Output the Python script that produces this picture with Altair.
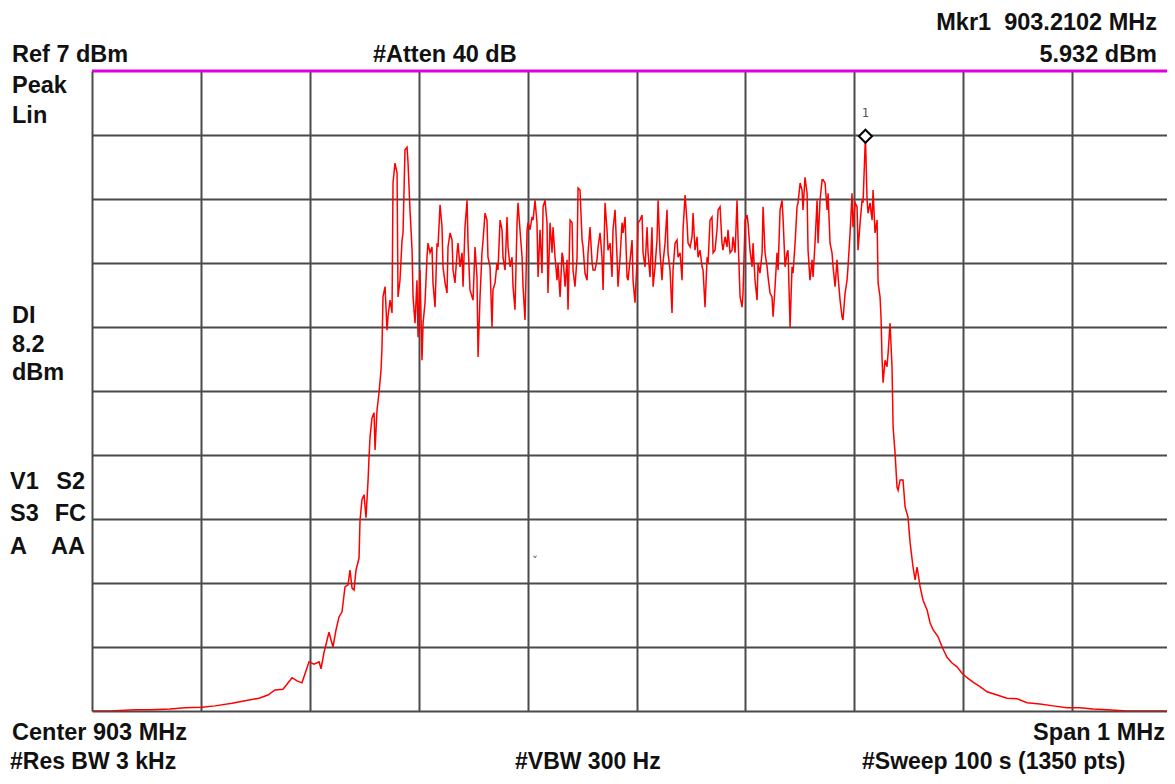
import altair as alt
import pandas as pd

FONT = "Liberation Sans"
TXT = "#111111"

# ---- trace data: frequency offset from 903 MHz centre (kHz) and level (divisions, 0..10) ----
LS_F = [-500.0, -483.5, -460.5, -446.7, -428.4, -414.6, -399.0, -387.0, -371.4, -359.5,
        -346.6, -338.4, -332.0, -324.6, -316.3, -311.7, -307.2, -300.7, -296.1, -291.5,
        -289.7, -287.0, -282.4, -280.5, -278.7, -275.9, -273.2, -270.4, -267.7, -264.9,
        -263.1, -261.2, -259.4, -257.6, -254.8, -253.9, -252.1, -250.2, -248.4, -246.5,
        -245.6, -244.7, -242.9, -241.0, -240.1, -238.3, -236.4, -234.6, -233.7]
LS_V = [0.0, 0.0, 0.02, 0.02, 0.03, 0.05, 0.06, 0.08, 0.12, 0.16,
        0.20, 0.25, 0.33, 0.34, 0.52, 0.47, 0.44, 0.77, 0.73, 0.77,
        0.66, 0.91, 1.23, 1.11, 1.00, 1.27, 1.47, 1.55, 1.94, 1.97,
        2.20, 1.92, 1.89, 2.20, 2.39, 2.98, 3.30, 3.38, 3.02, 3.61,
        3.97, 4.28, 4.58, 4.66, 4.08, 4.70, 4.98, 5.33, 5.69]

P1_F = [-232.8, -230.9, -229.1, -228.2, -226.3, -224.5, -223.6, -221.8, -219.9, -219.0,
        -217.2, -215.3, -214.4, -212.6, -210.7, -209.8, -208.0, -206.1, -205.2, -203.4,
        -201.6, -200.6, -198.8, -197.0, -196.0, -194.2, -192.4, -191.5, -189.6, -187.8,
        -186.9, -185.0, -183.2, -182.3, -180.4, -178.6, -177.7, -175.8, -174.0, -173.1,
        -171.2, -169.4, -168.5, -166.7, -164.8, -163.9, -162.1, -160.2, -159.3, -157.5,
        -155.6, -154.7, -152.9, -151.0, -150.1, -148.3, -146.5, -145.5, -143.7, -141.9,
        -140.9, -139.1, -137.3, -136.4, -134.5, -132.7, -131.8, -129.9, -128.1, -127.2,
        -125.3, -123.5, -122.6, -120.7, -118.9, -118.0, -116.1, -114.3, -113.4, -111.6,
        -109.7, -108.8, -107.0, -105.1, -104.2, -102.4, -100.5, -99.6, -97.8, -95.9,
        -95.0, -93.2, -91.4, -90.4, -88.6, -86.8, -85.8, -84.0, -82.2, -81.3,
        -79.4, -77.6, -76.7, -74.8]
P1_V = [6.47, 6.63, 5.95, 6.16, 6.42, 6.22, 8.25, 8.56, 8.41, 6.47,
        6.73, 7.36, 7.47, 8.77, 8.81, 8.56, 7.83, 7.20, 6.47, 6.06,
        6.73, 5.84, 6.89, 5.48, 6.06, 6.38, 7.09, 7.31, 7.16, 7.25,
        6.69, 6.31, 7.31, 7.25, 7.91, 7.56, 6.94, 6.69, 6.53, 7.25,
        7.47, 7.36, 6.89, 6.69, 7.16, 7.31, 6.94, 7.16, 6.63, 7.56,
        7.98, 7.31, 6.58, 6.47, 6.42, 7.25, 6.78, 5.53, 6.47, 7.16,
        7.36, 7.78, 7.67, 7.09, 6.94, 6.00, 6.58, 6.69, 7.00, 6.89,
        7.67, 7.52, 7.09, 6.89, 7.72, 7.25, 6.94, 7.09, 6.63, 6.27,
        7.63, 7.94, 7.52, 7.09, 6.63, 6.11, 7.52, 7.63, 7.52, 7.72,
        7.67, 7.98, 7.63, 6.78, 7.52, 6.84, 7.88, 7.98, 7.63, 6.53,
        7.63, 7.16, 7.56, 7.09]

P2_F = [-73.0, -72.1, -70.2, -68.4, -67.5, -65.6, -63.8, -62.9, -61.0, -59.2,
        -58.3, -56.5, -54.6, -53.7, -51.9, -50.0, -49.1, -47.3, -45.4, -44.5,
        -42.7, -40.8, -39.9, -38.1, -36.3, -35.3, -33.5, -31.7, -30.7, -28.9,
        -27.1, -26.2, -24.3, -22.5, -21.6, -19.7, -17.9, -17.0, -15.1, -13.3,
        -12.4, -10.5, -8.7, -7.8, -5.9, -4.1, -3.2, -1.4, 0.5, 1.4,
        3.2, 5.1, 6.0, 7.8, 9.7, 10.6, 12.4, 14.2, 15.2, 17.0,
        18.8, 19.8, 21.6, 23.4, 24.3, 26.2, 28.0, 28.9, 30.8, 32.6,
        33.5, 35.4, 37.2, 38.1, 40.0, 41.8, 42.7, 44.6, 46.4, 47.3,
        49.2, 51.0, 51.9, 53.7, 55.6, 56.5, 58.3, 60.2, 61.1, 62.9,
        64.8, 65.7, 67.5, 69.3, 70.3, 72.1, 73.9, 74.9, 76.7, 78.5,
        79.4, 81.3, 83.1, 84.0, 85.9, 87.7, 88.6, 90.5, 92.3, 93.2]
P2_V = [6.73, 7.00, 6.47, 7.16, 7.09, 6.63, 7.05, 6.27, 7.67, 7.63,
        6.89, 6.63, 7.09, 8.17, 8.14, 7.36, 7.25, 6.84, 6.73, 7.16,
        7.56, 7.00, 6.89, 6.89, 7.05, 7.25, 7.47, 7.09, 6.58, 7.94,
        7.52, 7.20, 7.31, 6.78, 7.52, 7.83, 7.09, 6.63, 7.09, 7.63,
        7.47, 7.72, 6.78, 6.73, 7.05, 7.36, 6.73, 6.38, 7.05, 7.63,
        7.67, 7.75, 7.16, 6.94, 7.56, 7.16, 6.78, 7.56, 6.63, 6.94,
        7.36, 7.98, 7.16, 6.73, 7.00, 7.31, 7.83, 7.16, 6.89, 6.22,
        6.89, 7.31, 7.36, 7.09, 7.16, 6.73, 7.52, 8.06, 7.63, 7.31,
        7.25, 7.41, 7.78, 7.20, 7.41, 7.09, 7.20, 6.94, 6.89, 6.31,
        7.09, 7.00, 7.67, 7.72, 7.16, 7.20, 7.52, 7.83, 7.88, 7.31,
        7.20, 7.41, 7.25, 7.52, 7.16, 7.20, 7.41, 7.16, 7.98, 7.41]

P3_F = [95.1, 96.9, 97.8, 99.7, 101.5, 102.4, 104.2, 106.1, 107.0, 108.8,
        110.7, 111.6, 113.4, 115.3, 116.2, 118.0, 119.9, 120.8, 122.6, 124.4,
        125.4, 127.2, 129.0, 130.0, 131.8, 133.6, 134.5, 136.4, 138.2, 139.1,
        141.0, 142.8, 143.7, 145.6, 147.4, 148.3, 150.2, 152.0, 152.9, 154.7,
        156.6, 157.5, 159.3, 161.2, 162.1, 163.9, 165.8, 166.7, 168.5, 170.4,
        171.3, 173.1, 175.0, 175.9, 177.7, 179.5, 180.5, 182.3, 184.1, 185.1,
        186.9, 188.7, 189.6, 191.5, 193.3, 194.2, 196.1, 197.9, 198.8, 200.7,
        202.5, 203.4, 205.3, 207.1, 208.0, 210.2, 211.7, 212.6, 214.4, 216.3,
        217.2, 219.0, 220.9, 221.8]
P3_V = [6.47, 6.31, 6.53, 7.67, 7.75, 7.63, 7.20, 6.94, 7.31, 6.73,
        6.42, 7.00, 6.84, 7.16, 7.88, 7.16, 6.94, 6.78, 6.53, 6.47,
        6.16, 6.63, 7.16, 6.89, 7.83, 7.98, 7.72, 6.94, 7.16, 7.20,
        6.00, 6.94, 6.84, 7.31, 7.88, 7.94, 8.25, 8.14, 7.83, 8.34,
        8.09, 7.20, 6.73, 7.05, 6.78, 7.31, 7.98, 7.31, 7.98, 8.30,
        8.30, 8.25, 7.83, 8.09, 7.31, 7.16, 6.94, 6.63, 7.05, 6.78,
        6.42, 6.16, 6.11, 6.53, 6.73, 6.94, 7.47, 8.09, 7.56, 7.94,
        7.88, 7.20, 7.63, 7.98, 7.94, 8.98, 7.98, 7.78, 7.94, 7.67,
        8.14, 7.47, 7.67, 6.69]

RS_F = [223.6, 224.5, 225.4, 226.4, 228.2, 230.0, 231.0, 232.8, 234.6, 235.6,
        237.4, 239.2, 240.2, 242.0, 244.7, 246.6, 249.3, 251.2, 253.9, 255.8,
        257.6, 260.4, 263.1, 266.8, 269.5, 272.3, 276.9, 280.6, 285.1, 289.7,
        294.3, 298.9, 303.5, 309.0, 315.4, 321.9, 331.1, 340.2, 349.4, 358.6,
        370.5, 382.5, 395.3, 407.3, 419.2, 432.1, 450.4, 480.7, 500.0]
RS_V = [6.47, 6.16, 5.53, 5.13, 5.48, 5.38, 5.59, 6.06, 5.38, 4.44,
        4.03, 3.50, 3.45, 3.61, 3.61, 3.19, 3.03, 2.63, 2.25, 2.05,
        2.25, 1.94, 1.73, 1.58, 1.38, 1.27, 1.16, 1.00, 0.84, 0.75,
        0.69, 0.59, 0.52, 0.45, 0.38, 0.30, 0.25, 0.20, 0.19, 0.13,
        0.11, 0.08, 0.05, 0.05, 0.03, 0.02, 0.0, 0.0, 0.0]

MKR_KHZ = [210.2]
MKR_LEVEL = [8.98]
CARET_KHZ = [-93.2]
CARET_LEVEL = [2.33]
REF_LINE_LEVEL = [10]

X_GRID = [-500, -400, -300, -200, -100, 0, 100, 200, 300, 400]
Y_GRID = [0, 1, 2, 3, 4, 5, 6, 7, 8, 9]

freq = LS_F + P1_F + P2_F + P3_F + RS_F
level = LS_V + P1_V + P2_V + P3_V + RS_V
assert len(freq) == len(level), (len(freq), len(level))
df = pd.DataFrame({"f": freq, "v": level})

# visible part of the 1 MHz span (the right edge is cut off in the screenshot)
x_scale = alt.Scale(domain=[-500, 487.1], nice=False, zero=False)
y_scale = alt.Scale(domain=[0, 10], nice=False, zero=False)
x_axis = alt.Axis(values=X_GRID, grid=True, gridColor="#4a4a4a", gridWidth=2,
                  labels=False, ticks=False, domain=False, title=None)
y_axis = alt.Axis(values=Y_GRID, grid=True, gridColor="#4a4a4a", gridWidth=2,
                  labels=False, ticks=False, domain=False, title=None)


def xy(fx="f", fy="v"):
    return dict(x=alt.X(f"{fx}:Q", scale=x_scale, axis=x_axis),
                y=alt.Y(f"{fy}:Q", scale=y_scale, axis=y_axis))


trace = alt.Chart(df).mark_line(color="#ff0000", strokeWidth=1.5, clip=True).encode(**xy())

ref_line = alt.Chart(pd.DataFrame({"v": REF_LINE_LEVEL})).mark_rule(
    color="#e000e0", strokeWidth=3).encode(y=alt.Y("v:Q", scale=y_scale, axis=y_axis))

mk_df = pd.DataFrame({"f": MKR_KHZ, "v": MKR_LEVEL})
marker = alt.Chart(mk_df).mark_point(
    shape="diamond", filled=True, fill="white", stroke="black", strokeWidth=2,
    size=170, opacity=1, fillOpacity=1).encode(**xy())
marker_lbl = alt.Chart(mk_df).mark_text(
    text="1", dy=-23, fontSize=12, font="DejaVu Sans Mono", color="#555555").encode(**xy())

caret = alt.Chart(pd.DataFrame({"f": CARET_KHZ, "v": CARET_LEVEL})).mark_text(
    text="ˇ", fontSize=12, font="DejaVu Sans", color="#555555").encode(**xy())

blank = alt.Data(values=[{}])


def label(txt, x, y, align="left", size=23.5):
    return alt.Chart(blank).mark_text(
        text=txt, align=align, baseline="middle", fontSize=size, font=FONT,
        fontWeight="bold", color=TXT).encode(x=alt.value(x), y=alt.value(y))


labels = [
    label("Mkr1\u00a0 903.2102 MHz", 1065, -48, "right"),
    label("5.932 dBm", 1065, -16, "right"),
    label("Ref 7 dBm", -80, -16),
    label("#Atten 40 dB", 281, -16),
    label("Peak", -80, 15),
    label("Lin", -80, 45),
    label("DI", -80, 245),
    label("8.2", -80, 274),
    label("dBm", -80, 302),
    label("V1", -82, 411),
    label("S2", -7, 411, "right"),
    label("S3", -82, 443),
    label("FC", -6, 443, "right"),
    label("A", -82, 476),
    label("AA", -7, 476, "right"),
    label("Center 903 MHz", -80, 662),
    label("Span 1 MHz", 1073, 662, "right"),
    label("#Res BW 3 kHz", -82, 691, size=23),
    label("#VBW 300 Hz", 423, 691, size=23),
    label("#Sweep 100 s (1350 pts)", 770, 691, size=23),
]

chart = alt.layer(trace, ref_line, marker, marker_lbl, caret, *labels).properties(
    width=1075, height=640,
    autosize=alt.AutoSizeParams(type="none"),
    padding={"left": 84, "top": 63, "right": 0, "bottom": 65},
    background="white",
).configure_view(stroke=None)

chart.save("out.html", embed_options={"renderer": "svg", "actions": False})
